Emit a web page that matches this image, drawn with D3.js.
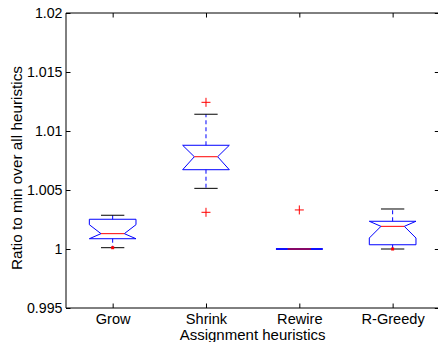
<!DOCTYPE html>
<html>
<head>
<meta charset="utf-8">
<script src="https://cdn.jsdelivr.net/npm/d3@7"></script>
<style>
html,body{margin:0;padding:0;background:#fff;}
svg{display:block;}
text{font-family:"Liberation Sans",Arial,Helvetica,sans-serif;}
</style>
</head>
<body>
<script>
const categories = ["Grow", "Shrink", "Rewire", "R-Greedy"];
const upperWhisker = [1.00286, 1.01142, 1.0, 1.00339];
const q3Values = [1.00252, 1.00879, 1.0, 1.00235];
const notchHigh = [1.00206, 1.00879, 1.0, 1.00235];
const medians = [1.00130, 1.00782, 1.0, 1.00192];
const notchLow = [1.00087, 1.00672, 1.0, 1.00093];
const q1Values = [1.00087, 1.00672, 1.0, 1.00036];
const lowerWhisker = [1.00011, 1.00514, 1.0, 1.0];
const outliers = [[], [1.01243, 1.00311], [1.00331], []];
const minMarks = [[1.00011], [], [], [1.0]];
const yTicks = [0.995, 1, 1.005, 1.01, 1.015, 1.02];
const yTickLabels = ["0.995", "1", "1.005", "1.01", "1.015", "1.02"];

const W = 438, H = 342;
const mLeft = 66, mRight = 439.3, mTop = 13, mBottom = 308;

const svg = d3.select("body").append("svg").attr("width", W).attr("height", H);

const x = d3.scaleLinear().domain([0.5, 4.5]).range([mLeft, mRight]);
const y = d3.scaleLinear().domain([0.995, 1.02]).range([mBottom, mTop]);

const boxHalf = 0.25, notchInset = 0.125, capHalf = 0.125;

// axes frame
const g = svg.append("g");
g.append("line").attr("x1", mLeft).attr("x2", mRight).attr("y1", mTop).attr("y2", mTop).attr("stroke", "#000");
g.append("line").attr("x1", mLeft).attr("x2", mRight).attr("y1", mBottom).attr("y2", mBottom).attr("stroke", "#000");
g.append("line").attr("x1", mLeft).attr("x2", mLeft).attr("y1", mTop).attr("y2", mBottom).attr("stroke", "#000");
g.append("line").attr("x1", mRight).attr("x2", mRight).attr("y1", mTop).attr("y2", mBottom).attr("stroke", "#000");

// left axis with inward ticks
const yAxis = d3.axisLeft(y).tickValues(yTicks).tickFormat((d, i) => yTickLabels[i]).tickSizeInner(-4.5).tickSizeOuter(0).tickPadding(3.5);
const ya = svg.append("g").attr("transform", `translate(${mLeft},0)`).call(yAxis);
ya.select(".domain").remove();
ya.selectAll("text").attr("font-size", 14.2).attr("fill", "#000").attr("font-family", "Liberation Sans, Arial, sans-serif");
ya.selectAll("line").attr("stroke", "#000");

const yAxisR = d3.axisRight(y).tickValues(yTicks).tickFormat("").tickSizeInner(-4.5).tickSizeOuter(0);
const yr = svg.append("g").attr("transform", `translate(${mRight},0)`).call(yAxisR);
yr.select(".domain").remove();
yr.selectAll("line").attr("stroke", "#000");

const xAxis = d3.axisBottom(x).tickValues([1, 2, 3, 4]).tickFormat((d, i) => categories[i]).tickSizeInner(-4.5).tickSizeOuter(0).tickPadding(6);
const xa = svg.append("g").attr("transform", `translate(0,${mBottom})`).call(xAxis);
xa.select(".domain").remove();
xa.selectAll("text").attr("font-size", 14.6).attr("fill", "#000").attr("font-family", "Liberation Sans, Arial, sans-serif");
xa.selectAll("line").attr("stroke", "#000");

const xAxisT = d3.axisTop(x).tickValues([1, 2, 3, 4]).tickFormat("").tickSizeInner(-4.5).tickSizeOuter(0);
const xt = svg.append("g").attr("transform", `translate(0,${mTop})`).call(xAxisT);
xt.select(".domain").remove();
xt.selectAll("line").attr("stroke", "#000");

// axis titles
svg.append("text").attr("x", (mLeft + mRight) / 2).attr("y", 340).attr("text-anchor", "middle")
  .attr("font-size", 15).text("Assignment heuristics");
svg.append("text").attr("transform", "translate(22,168) rotate(-90)").attr("text-anchor", "middle")
  .attr("font-size", 15.3).text("Ratio to min over all heuristics");

// boxes
const blue = "#0000ff", red = "#ff0000";
categories.forEach((c, i) => {
  const cx = i + 1;
  // whiskers
  g.append("line").attr("x1", x(cx)).attr("x2", x(cx)).attr("y1", y(q3Values[i])).attr("y2", y(upperWhisker[i]))
    .attr("stroke", blue).attr("stroke-dasharray", "4,3");
  g.append("line").attr("x1", x(cx)).attr("x2", x(cx)).attr("y1", y(q1Values[i])).attr("y2", y(lowerWhisker[i]))
    .attr("stroke", blue).attr("stroke-dasharray", "4,3");
  // caps
  [upperWhisker[i], lowerWhisker[i]].forEach(v => {
    g.append("line").attr("x1", x(cx - capHalf)).attr("x2", x(cx + capHalf)).attr("y1", y(v)).attr("y2", y(v))
      .attr("stroke", "#000");
  });
  // notched box
  const L = cx - boxHalf, R = cx + boxHalf, Ln = cx - boxHalf + notchInset, Rn = cx + boxHalf - notchInset;
  const pts = [
    [L, q1Values[i]], [L, notchLow[i]], [Ln, medians[i]], [L, notchHigh[i]], [L, q3Values[i]],
    [R, q3Values[i]], [R, notchHigh[i]], [Rn, medians[i]], [R, notchLow[i]], [R, q1Values[i]], [L, q1Values[i]]
  ];
  g.append("path").attr("d", d3.line().x(d => x(d[0])).y(d => y(d[1]))(pts))
    .attr("fill", "none").attr("stroke", blue).attr("stroke-width", 1);
  // median
  g.append("line").attr("x1", x(Ln)).attr("x2", x(Rn)).attr("y1", y(medians[i])).attr("y2", y(medians[i]))
    .attr("stroke", red);
  // outliers
  outliers[i].forEach(v => {
    const px = x(cx), py = y(v);
    g.append("path").attr("d", `M${px - 4.5},${py}H${px + 4.5}M${px},${py - 4.5}V${py + 4.5}`)
      .attr("stroke", red).attr("fill", "none");
  });
  minMarks[i].forEach(v => {
    g.append("rect").attr("x", x(cx) - 1.5).attr("y", y(v) - 1.5).attr("width", 3).attr("height", 3).attr("fill", red);
  });
});
</script>
</body>
</html>
